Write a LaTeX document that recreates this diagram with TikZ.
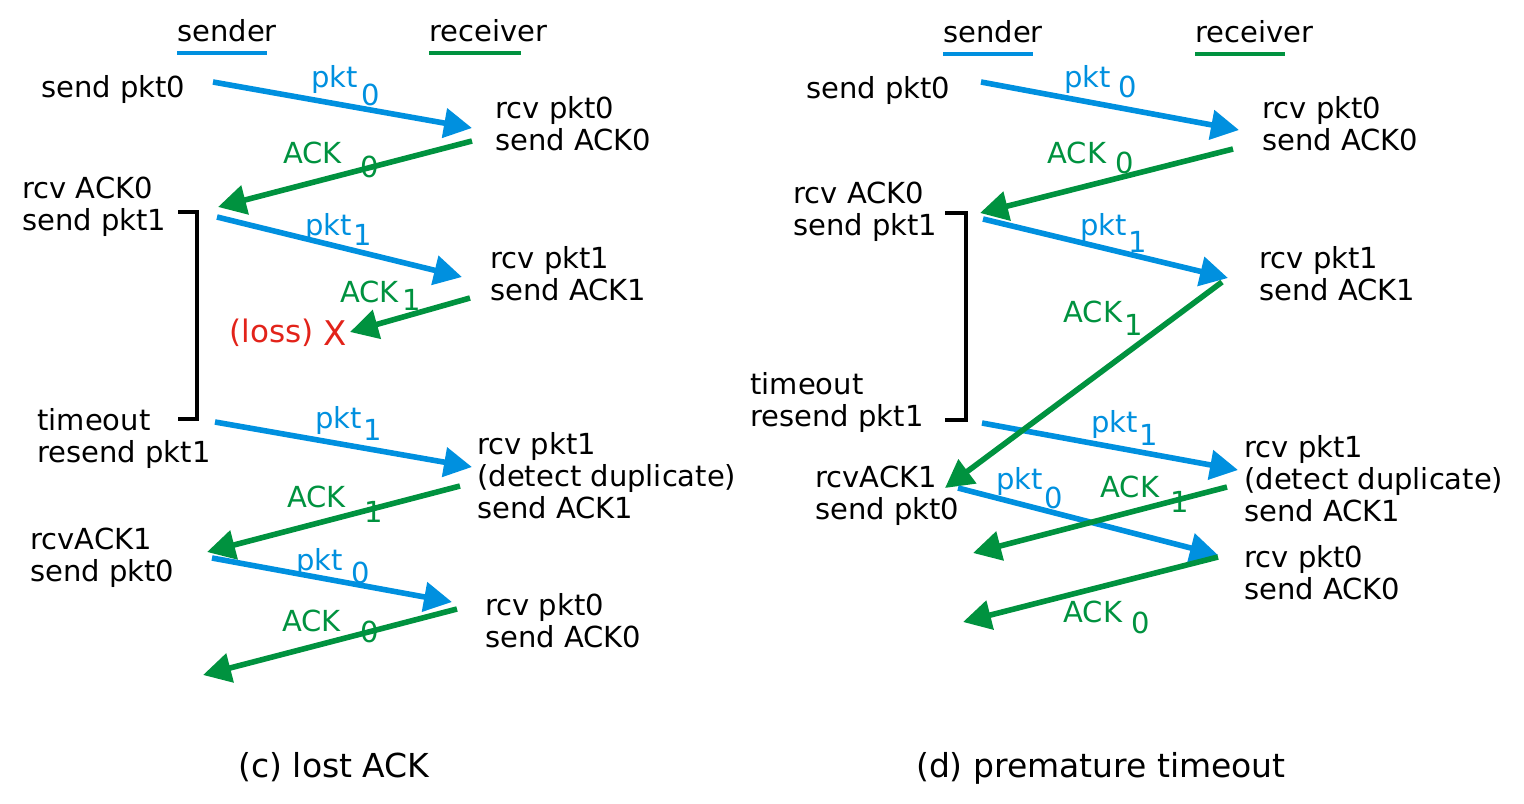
\documentclass[tikz,border=0pt]{standalone}
\usepackage{fontspec}
\setmainfont{DejaVu Sans}
\usetikzlibrary{arrows.meta}

\definecolor{pktblue}{RGB}{0,144,223}
\definecolor{ackgreen}{RGB}{0,146,63}
\definecolor{lossred}{RGB}{226,35,26}

% word with its sequence number set lower and to the right
\newcommand{\seqlbl}[4]{\rlap{\hspace*{#2}\raisebox{-#3}{#4}}#1}

\begin{document}
\begin{tikzpicture}[x=0.5pt,y=-0.5pt,
        font=\fontsize{14.5pt}{16pt}\selectfont,
        pkt/.style={pktblue,line width=2.8pt,-{Triangle[length=14pt,width=14.5pt]}},
        ack/.style={ackgreen,line width=2.8pt,-{Triangle[length=14pt,width=14.5pt]}},
        lbl/.style={anchor=base west,inner sep=0pt},
        txt/.style={anchor=north west,inner sep=0pt,align=left}]
  \useasboundingbox (0,0) rectangle (1524,803);

  % (c) lost ACK
  \node[lbl] (csnd) at (177,41) {sender};
  \node[lbl] (crcv) at (429,41) {receiver};
  \draw[pktblue,line width=2.4pt] ([yshift=-6pt]csnd.base west) -- ++(90,0);
  \draw[ackgreen,line width=2.4pt] ([yshift=-6pt]crcv.base west) -- ++(92,0);

  \node[txt] (c1) at (41,75) {send pkt0};
  \node[txt] (c2) at (495,96) {rcv pkt0\\send ACK0};
  \node[txt] (c3) at (22,177) {rcv ACK0\\send pkt1};
  \node[txt] (c4) at (490,246) {rcv pkt1\\send ACK1};
  \node[txt] (c5) at (37,408) {timeout\\resend pkt1};
  \node[txt] (c6) at (477,432) {rcv pkt1\\(detect duplicate)\\send ACK1};
  \node[txt] (c7) at (30,528) {rcvACK1\\send pkt0};
  \node[txt] (c8) at (485,593) {rcv pkt0\\send ACK0};
  \node[lbl,lossred,font=\fontsize{15.5pt}{17pt}\selectfont] (closs) at (229,342) {(loss)};
  \node[lbl,lossred,font=\fontsize{17pt}{18pt}\selectfont] (cx) at (323,345) {X};

  \coordinate (cs1) at (213,82);  \coordinate (cr1) at (472,128);
  \coordinate (cr2) at (472,141); \coordinate (cs2) at (218,207);
  \coordinate (cs3) at (217,217); \coordinate (cr3) at (462,277);
  \coordinate (cr4) at (470,298); \coordinate (cl4) at (350,332);
  \coordinate (cs5) at (215,422); \coordinate (cr5) at (472,467);
  \coordinate (cr6) at (460,486); \coordinate (cs6) at (207,552);
  \coordinate (cs7) at (212,558); \coordinate (cr7) at (452,602);
  \coordinate (cr8) at (457,609); \coordinate (cs8) at (203,675);

  \draw[pkt] (cs1) -- (cr1);
  \draw[ack] (cr2) -- (cs2);
  \draw[pkt] (cs3) -- (cr3);
  \draw[ack] (cr4) -- (cl4);
  \draw[pkt] (cs5) -- (cr5);
  \draw[ack] (cr6) -- (cs6);
  \draw[pkt] (cs7) -- (cr7);
  \draw[ack] (cr8) -- (cs8);

  \node[lbl,pktblue] (cp1) at (311,87) {\seqlbl{pkt}{25pt}{9pt}{0}};
  \node[lbl,ackgreen] (ca2) at (283,163) {\seqlbl{ACK}{38.5pt}{7pt}{0}};
  \node[lbl,pktblue] (cp3) at (305,235) {\seqlbl{pkt}{24pt}{5pt}{1}};
  \node[lbl,ackgreen] (ca4) at (340,302) {\seqlbl{ACK}{31pt}{4pt}{1}};
  \node[lbl,pktblue] (cp5) at (315,428) {\seqlbl{pkt}{24pt}{6pt}{1}};
  \node[lbl,ackgreen] (ca6) at (287,507) {\seqlbl{ACK}{38.5pt}{7.5pt}{1}};
  \node[lbl,pktblue] (cp7) at (296,570) {\seqlbl{pkt}{27.5pt}{6.5pt}{0}};
  \node[lbl,ackgreen] (ca8) at (282,631) {\seqlbl{ACK}{39pt}{5.5pt}{0}};

  \draw[line width=2.3pt] (178,212) -- (197,212) -- (197,419) -- (178,419);

  \node[anchor=base,font=\fontsize{16.5pt}{18pt}\selectfont] (ccap) at (334,777) {(c) lost ACK};

  % (d) premature timeout
  \node[lbl] (dsnd) at (943,42) {sender};
  \node[lbl] (drcv) at (1195,42) {receiver};
  \draw[pktblue,line width=2.4pt] ([yshift=-6pt]dsnd.base west) -- ++(90,0);
  \draw[ackgreen,line width=2.4pt] ([yshift=-6pt]drcv.base west) -- ++(90,0);

  \node[txt] (d1) at (806,76) {send pkt0};
  \node[txt] (d2) at (1262,96) {rcv pkt0\\send ACK0};
  \node[txt] (d3) at (793,182) {rcv ACK0\\send pkt1};
  \node[txt] (d4) at (1259,246) {rcv pkt1\\send ACK1};
  \node[txt] (d5) at (750,372) {timeout\\resend pkt1};
  \node[txt] (d6) at (1244,435) {rcv pkt1\\(detect duplicate)\\send ACK1};
  \node[txt] (d7) at (815,466) {rcvACK1\\send pkt0};
  \node[txt] (d8) at (1244,545) {rcv pkt0\\send ACK0};

  \coordinate (ds1) at (981,82);   \coordinate (dr1) at (1239,130);
  \coordinate (dr2) at (1233,149); \coordinate (ds2) at (980,213);
  \coordinate (ds3) at (983,219);  \coordinate (dr3) at (1228,278);
  \coordinate (dr4) at (1222,282); \coordinate (ds4) at (945,488);
  \coordinate (ds5) at (982,423);  \coordinate (dr5) at (1238,470);
  \coordinate (ds6) at (958,488);  \coordinate (dr6) at (1218,555);
  \coordinate (dr7) at (1227,487); \coordinate (dl7) at (973,553);
  \coordinate (dr8) at (1218,557); \coordinate (dl8) at (963,622);

  \draw[pkt] (ds1) -- (dr1);
  \draw[ack] (dr2) -- (ds2);
  \draw[pkt] (ds3) -- (dr3);
  \draw[pkt] (ds5) -- (dr5);
  \draw[ack] (dr4) -- (ds4);
  \draw[pkt] (ds6) -- (dr6);
  \draw[ack] (dr7) -- (dl7);
  \draw[ack] (dr8) -- (dl8);

  \node[lbl,pktblue] (dp1) at (1064,87) {\seqlbl{pkt}{27pt}{5pt}{0}};
  \node[lbl,ackgreen] (da2) at (1047,163) {\seqlbl{ACK}{34pt}{5pt}{0}};
  \node[lbl,pktblue] (dp3) at (1080,235) {\seqlbl{pkt}{24pt}{8.5pt}{1}};
  \node[lbl,ackgreen] (da4) at (1063,322) {\seqlbl{ACK}{30.5pt}{6.5pt}{1}};
  \node[lbl,pktblue] (dp5) at (1091,432) {\seqlbl{pkt}{24pt}{6.5pt}{1}};
  \node[lbl,pktblue] (dp6) at (996,489) {\seqlbl{pkt}{24pt}{9.5pt}{0}};
  \node[lbl,ackgreen] (da7) at (1100,497) {\seqlbl{ACK}{35pt}{7.5pt}{1}};
  \node[lbl,ackgreen] (da8) at (1063,622) {\seqlbl{ACK}{34pt}{5.5pt}{0}};

  \draw[line width=2.3pt] (945,213) -- (966,213) -- (966,420) -- (945,420);

  \node[anchor=base,font=\fontsize{16.5pt}{18pt}\selectfont] (dcap) at (1101,777) {(d) premature timeout};
\end{tikzpicture}
\end{document}
